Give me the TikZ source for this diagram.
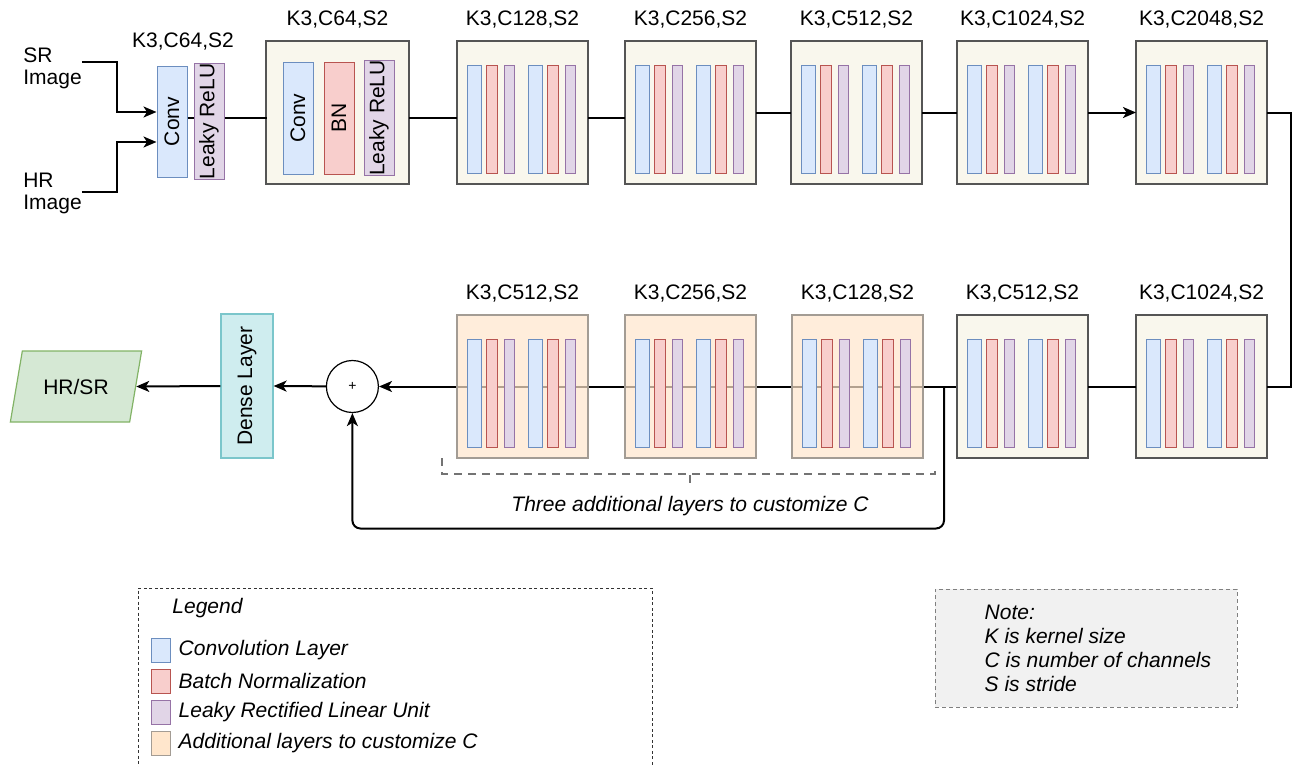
\documentclass[tikz,border=0pt]{standalone}
\usepackage{fontspec}
\setmainfont{Liberation Sans}
\usetikzlibrary{positioning, shapes.geometric, arrows.meta, backgrounds, calc}

\definecolor{convfill}{HTML}{DAE8FC}
\definecolor{convline}{HTML}{6C8EBF}
\definecolor{bnfill}{HTML}{F8CECC}
\definecolor{bnline}{HTML}{B85450}
\definecolor{lrelufill}{HTML}{E1D5E7}
\definecolor{lreluline}{HTML}{9673A6}
\definecolor{extrafill}{HTML}{FFE6CC}
\definecolor{extraline}{HTML}{A39C94}
\definecolor{boxfill}{HTML}{F9F7ED}
\definecolor{boxline}{HTML}{555555}
\definecolor{densefill}{HTML}{CFEDEF}
\definecolor{denseline}{HTML}{7BC6CB}
\definecolor{hrfill}{HTML}{D5E8D4}
\definecolor{hrline}{HTML}{82B366}
\definecolor{notefill}{HTML}{F1F1F1}

\newcommand{\basefont}{\fontsize{21}{24}\selectfont}

\tikzset{
  bar/.style={line width=1pt, inner sep=0pt},
  conv/.style={bar, draw=convline, fill=convfill},
  bn/.style={bar, draw=bnline, fill=bnfill},
  lrelu/.style={bar, draw=lreluline, fill=lrelufill},
  extra/.style={bar, draw=extraline, fill=extrafill},
  layerbox/.style={draw=boxline, fill=boxfill, line width=1.4pt, outer sep=0pt,
    minimum width=131pt, minimum height=143pt, inner sep=0pt},
  extrabox/.style={layerbox, draw=extraline, fill=extrafill, fill opacity=0.7},
  ksc/.style={label={[label distance=9pt, text opacity=1]above:#1}},
  link/.style={line width=2pt},
  bracket/.style={draw=black!55, line width=2pt, dash pattern=on 8pt off 6pt},
}

% six thin bars inside a layer box
\newcommand{\layerbars}[1]{%
  \foreach \dx/\w/\kind [count=\i] in {-48.5/14/conv, -31/11/bn, -13.5/10/lrelu,
                                       12.5/14/conv, 30/11/bn, 47.5/10/lrelu}
    \node[\kind, minimum width=\w pt, minimum height=108pt] (#1-\i)
      at ([xshift=\dx pt, yshift=-6.5pt]#1.center) {};%
}

\begin{document}
\begin{tikzpicture}[x=1pt, y=-1pt, font=\basefont,
  >={Stealth[length=13pt, width=11pt, inset=3.5pt]}]

	\useasboundingbox (0,0) rectangle (1298,766);
	\clip (0,0) rectangle (1298,766);

	% inputs and first conv
	\node[align=left, inner sep=0pt, font=\fontsize{21}{22}\selectfont] (srimg) at (52.5,68) {SR\\Image};
	\node[align=left, inner sep=0pt, font=\fontsize{21}{22}\selectfont] (hrimg) at (52.5,193) {HR\\Image};
	\node[conv, rotate=90, minimum width=111pt, minimum height=30pt] (conv0) at (172,121.5) {Conv};
	\node[lrelu, rotate=90, minimum width=111pt, minimum height=30pt] (lrelu0) at (209,121.5) {Leaky ReLU};
	\node (k0) at (183,42) {K3,C64,S2};

	\node[layerbox, minimum width=143pt, ksc={K3,C64,S2}] (box0) at (337.5,112.5) {};
	\node[conv, rotate=90, minimum width=112pt, minimum height=30pt] (box0-1) at ([xshift=-39.5pt, yshift=-5.5pt]box0.center) {Conv};
	\node[bn, rotate=90, minimum width=112pt, minimum height=30pt] (box0-2) at ([xshift=1.5pt, yshift=-5.5pt]box0.center) {BN};
	\node[lrelu, rotate=90, minimum width=112pt, minimum height=30pt] (box0-3) at ([xshift=41.5pt, yshift=-5.5pt]box0.center) {Leaky ReLU};

	% top row
	\node[layerbox, right=48pt of box0, ksc={K3,C128,S2}] (t1) {};
	\node[layerbox, right=37pt of t1, ksc={K3,C256,S2}] (t2) {};
	\node[layerbox, right=35pt of t2, ksc={K3,C512,S2}] (t3) {};
	\node[layerbox, right=35pt of t3, ksc={K3,C1024,S2}] (t4) {};
	\node[layerbox, right=48pt of t4, ksc={K3,C2048,S2}] (t5) {};

	% bottom row
	\node[layerbox, below=131pt of t5, ksc={K3,C1024,S2}] (b5) {};
	\node[layerbox, left=48pt of b5, ksc={K3,C512,S2}] (b4) {};
	\node[extrabox, left=34pt of b4, ksc={K3,C128,S2}] (b3) {};
	\node[extrabox, left=36pt of b3, ksc={K3,C256,S2}] (b2) {};
	\node[extrabox, left=37pt of b2, ksc={K3,C512,S2}] (b1) {};

	\foreach \n in {t1,t2,t3,t4,t5,b5,b4,b3,b2,b1}
		\layerbars{\n};

	\node[draw, circle, line width=1.2pt, minimum size=52pt, inner sep=0pt,
		font=\fontsize{14}{16}\selectfont, left=78pt of b1] (sum) {+};
	\node[draw=denseline, fill=densefill, line width=1.2pt, rotate=90,
		minimum width=144pt, minimum height=52pt] (dense) at (247,386) {Dense Layer};
	\node[trapezium, trapezium left angle=70, trapezium right angle=110, trapezium stretches=true,
		draw=hrline, fill=hrfill, line width=1.2pt, minimum width=132pt, minimum height=71pt] (hrsr) at (76,386.5) {HR/SR};

	% connectors
	\draw[link, ->] ([yshift=6pt]srimg.east) -- ++(35,0) |- ([yshift=9.5pt]conv0.north);
	\draw[link, ->] ([yshift=1pt]hrimg.east) -- ++(35,0) |- ([yshift=-20.5pt]conv0.north);
	\draw[link] ([yshift=3.5pt]conv0.south) -- ([yshift=3.5pt]lrelu0.north);
	\draw[link] ([yshift=3.5pt]lrelu0.south) -- ++(42,0);
	\draw[link] ([yshift=-5.5pt]box0.east) -- ++(48,0);
	\draw[link] ([yshift=-5.5pt]t1.east) -- ++(37,0);
	\draw[link] (t2) -- (t3);
	\draw[link] (t3) -- (t4);
	\draw[link, ->] (t4) -- (t5);
	\draw[link] (t5.east) -- ++(24,0) |- (b5.east);
	\draw[link] (b5) -- (b4);
	\begin{scope}[on background layer]
		\draw[link, ->] (b4.west) -- (sum.east);
	\end{scope}
	\coordinate (split) at ([xshift=21pt]b3.east);
	\draw[link, ->, rounded corners=8pt] (split) -- ++(0,142) -| (sum.south);
	\draw[link, ->] (sum) -- (dense.south);
	\draw[link, ->] (dense.north) -- (hrsr.east);

	% bracket under the extra layers
	\coordinate (extramid) at ($(b1.south west)!0.5!(b3.south east)$);
	\draw[bracket] ([xshift=-15pt]b1.south west) -- ++(0,16) -| ([xshift=12pt, yshift=-8pt]b3.south east);
	\draw[bracket] ([yshift=-17pt]extramid) -- ++(0,8);
	\node[font=\basefont\itshape] (extratext) at ([yshift=-48pt]extramid) {Three additional layers to customize C};

	% legend
	\node[draw=black!80, line width=1pt, dash pattern=on 3pt off 2.5pt,
		minimum width=514pt, minimum height=240pt] (legend) at (395,708) {};
	\node[font=\basefont\itshape] (legendtitle) at (207.5,608) {Legend};
	\foreach \kind/\txt [count=\i] in {conv/Convolution Layer, bn/Batch Normalization,
		lrelu/Leaky Rectified Linear Unit, extra/Additional layers to customize C} {
		\node[\kind, minimum width=19pt, minimum height=24pt] (key\i) at (160.5,619+31*\i) {};
		\node[right=8pt of key\i, font=\basefont\itshape, inner sep=0pt] (keytext\i) {\txt};
	}

	% note
	\node[draw=black!50, fill=notefill, line width=1pt, dash pattern=on 4pt off 3pt,
		minimum width=302pt, minimum height=118pt] (notebox) at (1086,648) {};
	\node[anchor=west, align=left, font=\basefont\itshape, inner sep=0pt] (notetext)
		at ([xshift=50pt]notebox.west) {Note:\\K is kernel size\\C is number of channels\\S is stride};
\end{tikzpicture}
\end{document}
